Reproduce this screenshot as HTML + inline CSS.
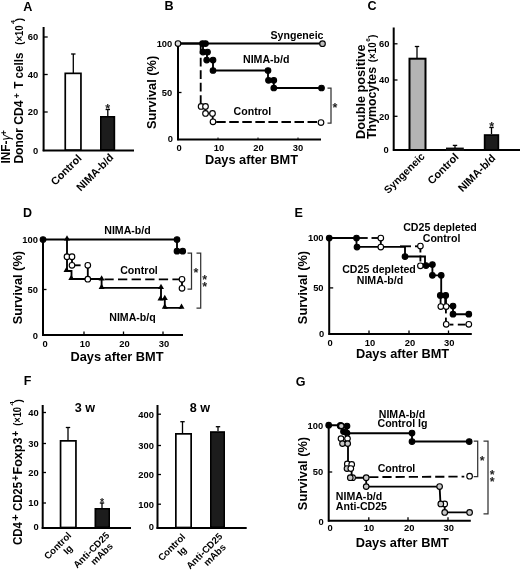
<!DOCTYPE html>
<html><head><meta charset="utf-8"><title>Figure</title>
<style>html,body{margin:0;padding:0;background:#fff}svg{display:block;filter:grayscale(1)}</style></head>
<body><svg width="520" height="571" viewBox="0 0 520 571">
<defs><filter id="soft" x="0" y="0" width="100%" height="100%" filterUnits="userSpaceOnUse"><feGaussianBlur stdDeviation="0.38"/></filter></defs>
<rect width="520" height="571" fill="#fff"/>
<g filter="url(#soft)">
<text x="23.3" y="10.9" font-family="Liberation Sans, sans-serif" font-weight="bold" font-size="12.6" text-anchor="start">A</text>
<line x1="43.6" y1="27" x2="43.6" y2="151.2" stroke="#000" stroke-width="2.0"/>
<line x1="42.7" y1="150.4" x2="134" y2="150.4" stroke="#000" stroke-width="2.0"/>
<line x1="43.6" y1="37" x2="47.7" y2="37" stroke="#000" stroke-width="1.3"/>
<text x="38.3" y="40.4" font-family="Liberation Sans, sans-serif" font-weight="bold" font-size="9.4" text-anchor="end">60</text>
<line x1="43.6" y1="74.5" x2="47.7" y2="74.5" stroke="#000" stroke-width="1.3"/>
<text x="38.3" y="77.9" font-family="Liberation Sans, sans-serif" font-weight="bold" font-size="9.4" text-anchor="end">40</text>
<line x1="43.6" y1="112" x2="47.7" y2="112" stroke="#000" stroke-width="1.3"/>
<text x="38.3" y="115.4" font-family="Liberation Sans, sans-serif" font-weight="bold" font-size="9.4" text-anchor="end">20</text>
<text x="38.3" y="153.8" font-family="Liberation Sans, sans-serif" font-weight="bold" font-size="9.4" text-anchor="end">0</text>
<rect x="65.25" y="73.35" width="15.699999999999992" height="76.65" fill="#fff" stroke="#000" stroke-width="1.7"/>
<line x1="73.3" y1="73" x2="73.3" y2="54" stroke="#000" stroke-width="1.3"/>
<line x1="71.1" y1="54" x2="75.5" y2="54" stroke="#000" stroke-width="1.3"/>
<rect x="100.85" y="116.85" width="13.500000000000004" height="33.15" fill="#1a1a1a" stroke="#000" stroke-width="1.7"/>
<line x1="107.8" y1="116" x2="107.8" y2="109.5" stroke="#000" stroke-width="1.3"/>
<line x1="105.6" y1="109.5" x2="110.0" y2="109.5" stroke="#000" stroke-width="1.3"/>
<text x="107.8" y="113" font-family="Liberation Sans, sans-serif" font-weight="bold" font-size="12.5" text-anchor="middle" fill="#222">*</text>
<text x="82.3" y="158.9" font-family="Liberation Sans, sans-serif" font-weight="bold" font-size="10.8" text-anchor="end" transform="rotate(-45 82.3 158.9)">Control</text>
<text x="114.3" y="158.2" font-family="Liberation Sans, sans-serif" font-weight="bold" font-size="10.8" text-anchor="end" transform="rotate(-45 114.3 158.2)">NIMA-b/d</text>
<text x="10.2" y="163.6" font-family="Liberation Sans, sans-serif" font-weight="bold" font-size="12.6" textLength="23.1" lengthAdjust="spacingAndGlyphs" transform="rotate(-90 10.2 163.6)">INF-</text>
<text x="10.2" y="140.5" font-family="Liberation Sans, sans-serif" font-weight="normal" font-size="12.6" textLength="6.0" lengthAdjust="spacingAndGlyphs" transform="rotate(-90 10.2 140.5)" font-style="italic">γ</text>
<text x="7" y="135.5" font-family="Liberation Sans, sans-serif" font-weight="bold" font-size="9.5" textLength="5.5" lengthAdjust="spacingAndGlyphs" transform="rotate(-90 7 135.5)">+</text>
<text x="23.2" y="163.6" font-family="Liberation Sans, sans-serif" font-weight="bold" font-size="12.6" textLength="63.1" lengthAdjust="spacingAndGlyphs" transform="rotate(-90 23.2 163.6)">Donor CD4</text>
<text x="19.8" y="98.2" font-family="Liberation Sans, sans-serif" font-weight="bold" font-size="9.5" textLength="5.0" lengthAdjust="spacingAndGlyphs" transform="rotate(-90 19.8 98.2)">+</text>
<text x="23.2" y="88.7" font-family="Liberation Sans, sans-serif" font-weight="bold" font-size="12.6" textLength="36.2" lengthAdjust="spacingAndGlyphs" transform="rotate(-90 23.2 88.7)">T cells</text>
<text x="22.6" y="44.8" font-family="Liberation Sans, sans-serif" font-weight="bold" font-size="10.2" textLength="19.5" lengthAdjust="spacingAndGlyphs" transform="rotate(-90 22.6 44.8)">(×10</text>
<text x="15.2" y="23.9" font-family="Liberation Sans, sans-serif" font-weight="bold" font-size="6.2" textLength="3.9" lengthAdjust="spacingAndGlyphs" transform="rotate(-90 15.2 23.9)">4</text>
<text x="22.6" y="21.2" font-family="Liberation Sans, sans-serif" font-weight="bold" font-size="10.2" textLength="3.3" lengthAdjust="spacingAndGlyphs" transform="rotate(-90 22.6 21.2)">)</text>
<text x="164.5" y="9.6" font-family="Liberation Sans, sans-serif" font-weight="bold" font-size="12.6" text-anchor="start">B</text>
<line x1="178" y1="43.5" x2="178" y2="140.3" stroke="#000" stroke-width="2.0"/>
<line x1="177.2" y1="139.5" x2="321" y2="139.5" stroke="#000" stroke-width="2.0"/>
<line x1="178" y1="43.5" x2="181.5" y2="43.5" stroke="#000" stroke-width="1.3"/>
<text x="172.3" y="46.9" font-family="Liberation Sans, sans-serif" font-weight="bold" font-size="9.4" text-anchor="end">100</text>
<line x1="178" y1="92.5" x2="181.5" y2="92.5" stroke="#000" stroke-width="1.3"/>
<text x="172.3" y="95.9" font-family="Liberation Sans, sans-serif" font-weight="bold" font-size="9.4" text-anchor="end">50</text>
<text x="173" y="142.3" font-family="Liberation Sans, sans-serif" font-weight="bold" font-size="9.4" text-anchor="end">0</text>
<text x="179" y="151.3" font-family="Liberation Sans, sans-serif" font-weight="bold" font-size="9.4" text-anchor="middle">0</text>
<text x="219" y="151.3" font-family="Liberation Sans, sans-serif" font-weight="bold" font-size="9.4" text-anchor="middle">10</text>
<text x="258.5" y="151.3" font-family="Liberation Sans, sans-serif" font-weight="bold" font-size="9.4" text-anchor="middle">20</text>
<text x="298" y="151.3" font-family="Liberation Sans, sans-serif" font-weight="bold" font-size="9.4" text-anchor="middle">30</text>
<line x1="218" y1="139.5" x2="218" y2="137.5" stroke="#000" stroke-width="1"/>
<line x1="258" y1="139.5" x2="258" y2="137.5" stroke="#000" stroke-width="1"/>
<line x1="298" y1="139.5" x2="298" y2="137.5" stroke="#000" stroke-width="1"/>
<text x="251.5" y="164.3" font-family="Liberation Sans, sans-serif" font-weight="bold" font-size="12.8" text-anchor="middle">Days after BMT</text>
<text x="155.7" y="92.4" font-family="Liberation Sans, sans-serif" font-weight="bold" font-size="12.8" text-anchor="middle" transform="rotate(-90 155.7 92.4)">Survival (%)</text>
<line x1="178" y1="43.5" x2="322" y2="43.5" stroke="#000" stroke-width="1.85"/>
<line x1="200.7" y1="45.3" x2="200.7" y2="104" stroke="#000" stroke-width="1.85" stroke-dasharray="8.8 3.7"/>
<polyline points="201,106.4 205.5,106.4 205.5,113.4 212.7,113.4 212.7,121.8" fill="none" stroke="#000" stroke-width="1.85" stroke-linejoin="miter"/>
<line x1="216.2" y1="122" x2="318" y2="122" stroke="#000" stroke-width="1.85" stroke-dasharray="9.5 3.55"/>
<polyline points="178,43.5 203,43.5 203,52 207,52 207,60 213,60 213,70.5 268,70.5 268,80.3 273.8,80.3 273.8,88 321.5,88" fill="none" stroke="#000" stroke-width="1.85" stroke-linejoin="miter"/>
<circle cx="178" cy="43.5" r="2.8" fill="#ddd" stroke="#000" stroke-width="1.15"/>
<circle cx="202.5" cy="43.5" r="2.8" fill="#000" stroke="#000" stroke-width="1.15"/>
<circle cx="205.5" cy="43.5" r="2.8" fill="#000" stroke="#000" stroke-width="1.15"/>
<circle cx="203" cy="52" r="2.8" fill="#000" stroke="#000" stroke-width="1.15"/>
<circle cx="207.5" cy="52" r="2.8" fill="#000" stroke="#000" stroke-width="1.15"/>
<circle cx="206.7" cy="60" r="2.8" fill="#000" stroke="#000" stroke-width="1.15"/>
<circle cx="213" cy="60" r="2.8" fill="#000" stroke="#000" stroke-width="1.15"/>
<circle cx="213" cy="70.5" r="2.8" fill="#000" stroke="#000" stroke-width="1.15"/>
<circle cx="268" cy="70.5" r="2.8" fill="#000" stroke="#000" stroke-width="1.15"/>
<circle cx="268.5" cy="80.3" r="2.8" fill="#000" stroke="#000" stroke-width="1.15"/>
<circle cx="273.8" cy="80.3" r="2.8" fill="#000" stroke="#000" stroke-width="1.15"/>
<circle cx="273.8" cy="88" r="2.8" fill="#000" stroke="#000" stroke-width="1.15"/>
<circle cx="321.5" cy="88" r="2.8" fill="#000" stroke="#000" stroke-width="1.15"/>
<circle cx="201.1" cy="106.4" r="2.8" fill="#fff" stroke="#000" stroke-width="1.15"/>
<circle cx="205.5" cy="106.4" r="2.8" fill="#fff" stroke="#000" stroke-width="1.15"/>
<circle cx="205.5" cy="113.4" r="2.8" fill="#fff" stroke="#000" stroke-width="1.15"/>
<circle cx="212.5" cy="113.4" r="2.8" fill="#fff" stroke="#000" stroke-width="1.15"/>
<circle cx="213" cy="121.8" r="2.8" fill="#fff" stroke="#000" stroke-width="1.15"/>
<circle cx="321" cy="122.6" r="2.8" fill="#fff" stroke="#000" stroke-width="1.15"/>
<circle cx="322.5" cy="43.7" r="2.8" fill="#bbb" stroke="#000" stroke-width="1.15"/>
<text x="297" y="38.8" font-family="Liberation Sans, sans-serif" font-weight="bold" font-size="10.6" text-anchor="middle">Syngeneic</text>
<text x="243" y="63" font-family="Liberation Sans, sans-serif" font-weight="bold" font-size="10.6" text-anchor="start">NIMA-b/d</text>
<text x="233.6" y="115" font-family="Liberation Sans, sans-serif" font-weight="bold" font-size="10.6" text-anchor="start">Control</text>
<polyline points="327.5,88 331,88 331,123 327.5,123" fill="none" stroke="#333" stroke-width="1.25" stroke-linejoin="miter"/>
<text x="335" y="111.5" font-family="Liberation Sans, sans-serif" font-weight="bold" font-size="12.5" text-anchor="middle" fill="#222">*</text>
<text x="367.6" y="9.8" font-family="Liberation Sans, sans-serif" font-weight="bold" font-size="12.6" text-anchor="start">C</text>
<line x1="393.7" y1="27.5" x2="393.7" y2="150.8" stroke="#000" stroke-width="2.0"/>
<line x1="392.9" y1="150" x2="520" y2="150" stroke="#000" stroke-width="2.0"/>
<line x1="393.7" y1="43.8" x2="397.5" y2="43.8" stroke="#000" stroke-width="1.3"/>
<text x="389.4" y="47.099999999999994" font-family="Liberation Sans, sans-serif" font-weight="bold" font-size="9.4" text-anchor="end">60</text>
<line x1="393.7" y1="80" x2="397.5" y2="80" stroke="#000" stroke-width="1.3"/>
<text x="389.4" y="83.3" font-family="Liberation Sans, sans-serif" font-weight="bold" font-size="9.4" text-anchor="end">40</text>
<line x1="393.7" y1="116.3" x2="397.5" y2="116.3" stroke="#000" stroke-width="1.3"/>
<text x="389.4" y="119.6" font-family="Liberation Sans, sans-serif" font-weight="bold" font-size="9.4" text-anchor="end">20</text>
<text x="388.8" y="153.2" font-family="Liberation Sans, sans-serif" font-weight="bold" font-size="9.4" text-anchor="end">0</text>
<rect x="409.5" y="58.7" width="16.0" height="91.3" fill="#b4b4b4" stroke="#000" stroke-width="2"/>
<line x1="417" y1="58" x2="417" y2="46.5" stroke="#000" stroke-width="1.3"/>
<line x1="414.8" y1="46.5" x2="419.2" y2="46.5" stroke="#000" stroke-width="1.3"/>
<rect x="446" y="147.6" width="17.8" height="3" fill="#111"/>
<line x1="455" y1="148" x2="455" y2="145.4" stroke="#000" stroke-width="1.3"/>
<line x1="452.8" y1="145.4" x2="457.2" y2="145.4" stroke="#000" stroke-width="1.3"/>
<rect x="484.65000000000003" y="135.04999999999998" width="13.699999999999978" height="14.950000000000012" fill="#1a1a1a" stroke="#000" stroke-width="1.7"/>
<line x1="491.5" y1="134" x2="491.5" y2="127.5" stroke="#000" stroke-width="1.3"/>
<line x1="489.3" y1="127.5" x2="493.7" y2="127.5" stroke="#000" stroke-width="1.3"/>
<text x="491.7" y="131" font-family="Liberation Sans, sans-serif" font-weight="bold" font-size="12.5" text-anchor="middle" fill="#222">*</text>
<text x="425.5" y="157" font-family="Liberation Sans, sans-serif" font-weight="bold" font-size="10.5" text-anchor="end" transform="rotate(-45 425.5 157)">Syngeneic</text>
<text x="459.4" y="157.6" font-family="Liberation Sans, sans-serif" font-weight="bold" font-size="10.9" text-anchor="end" transform="rotate(-45 459.4 157.6)">Control</text>
<text x="496.2" y="158.8" font-family="Liberation Sans, sans-serif" font-weight="bold" font-size="10.9" text-anchor="end" transform="rotate(-45 496.2 158.8)">NIMA-b/d</text>
<text x="364.6" y="138.9" font-family="Liberation Sans, sans-serif" font-weight="bold" font-size="12.8" textLength="94.4" lengthAdjust="spacingAndGlyphs" transform="rotate(-90 364.6 138.9)">Double positive</text>
<text x="376.2" y="138.9" font-family="Liberation Sans, sans-serif" font-weight="bold" font-size="12.8" textLength="71.9" lengthAdjust="spacingAndGlyphs" transform="rotate(-90 376.2 138.9)">Thymocytes</text>
<text x="375.6" y="62.2" font-family="Liberation Sans, sans-serif" font-weight="bold" font-size="10.2" textLength="19.8" lengthAdjust="spacingAndGlyphs" transform="rotate(-90 375.6 62.2)">(×10</text>
<text x="370" y="41.8" font-family="Liberation Sans, sans-serif" font-weight="bold" font-size="6.2" textLength="3.6" lengthAdjust="spacingAndGlyphs" transform="rotate(-90 370 41.8)">6</text>
<text x="375.6" y="38" font-family="Liberation Sans, sans-serif" font-weight="bold" font-size="10.2" textLength="3.4" lengthAdjust="spacingAndGlyphs" transform="rotate(-90 375.6 38)">)</text>
<text x="23" y="217" font-family="Liberation Sans, sans-serif" font-weight="bold" font-size="12.5" text-anchor="start">D</text>
<line x1="43" y1="239.5" x2="43" y2="336" stroke="#000" stroke-width="2.0"/>
<line x1="42" y1="335.1" x2="183" y2="335.1" stroke="#000" stroke-width="2.0"/>
<line x1="43" y1="239.5" x2="46.5" y2="239.5" stroke="#000" stroke-width="1.3"/>
<text x="38" y="242.9" font-family="Liberation Sans, sans-serif" font-weight="bold" font-size="9.4" text-anchor="end">100</text>
<line x1="43" y1="289.5" x2="46.5" y2="289.5" stroke="#000" stroke-width="1.3"/>
<text x="38" y="292.9" font-family="Liberation Sans, sans-serif" font-weight="bold" font-size="9.4" text-anchor="end">50</text>
<text x="38" y="339.3" font-family="Liberation Sans, sans-serif" font-weight="bold" font-size="9.4" text-anchor="end">0</text>
<text x="45" y="347.2" font-family="Liberation Sans, sans-serif" font-weight="bold" font-size="9.4" text-anchor="middle">0</text>
<text x="85" y="347.2" font-family="Liberation Sans, sans-serif" font-weight="bold" font-size="9.4" text-anchor="middle">10</text>
<text x="124.5" y="347.2" font-family="Liberation Sans, sans-serif" font-weight="bold" font-size="9.4" text-anchor="middle">20</text>
<text x="164" y="347.2" font-family="Liberation Sans, sans-serif" font-weight="bold" font-size="9.4" text-anchor="middle">30</text>
<line x1="84" y1="335" x2="84" y2="331.5" stroke="#000" stroke-width="1.3"/>
<line x1="123.5" y1="335" x2="123.5" y2="331.5" stroke="#000" stroke-width="1.3"/>
<line x1="163" y1="335" x2="163" y2="331.5" stroke="#000" stroke-width="1.3"/>
<text x="117" y="360.7" font-family="Liberation Sans, sans-serif" font-weight="bold" font-size="12.8" text-anchor="middle">Days after BMT</text>
<text x="22.1" y="287.6" font-family="Liberation Sans, sans-serif" font-weight="bold" font-size="12.8" text-anchor="middle" transform="rotate(-90 22.1 287.6)">Survival (%)</text>
<polyline points="67,239.5 67,271 71.5,271 71.5,279 101.6,279 101.6,287.8 161,287.8 161,299.4 164.8,299.4 164.8,307.8 181.5,307.8" fill="none" stroke="#000" stroke-width="1.85" stroke-linejoin="miter"/>
<polygon points="64.0,240.5 70.0,240.5 67,235.2" fill="#000"/>
<polygon points="63.5,272 69.5,272 66.5,266.7" fill="#000"/>
<polygon points="68.3,280 74.3,280 71.3,274.7" fill="#000"/>
<polygon points="98.6,280.5 104.6,280.5 101.6,275.2" fill="#000"/>
<polygon points="98.6,289 104.6,289 101.6,283.7" fill="#000"/>
<polygon points="158.0,289 164.0,289 161,283.7" fill="#000"/>
<polygon points="157.5,300.4 163.5,300.4 160.5,295.09999999999997" fill="#000"/>
<polygon points="161.8,300 167.8,300 164.8,294.7" fill="#000"/>
<polygon points="161.8,308.8 167.8,308.8 164.8,303.5" fill="#000"/>
<polygon points="178.5,308.8 184.5,308.8 181.5,303.5" fill="#000"/>
<polyline points="67,256.7 72,256.7 72,265.3" fill="none" stroke="#000" stroke-width="1.85" stroke-linejoin="miter"/>
<line x1="75" y1="265.3" x2="80.6" y2="265.3" stroke="#000" stroke-width="1.85"/>
<line x1="87.8" y1="265.3" x2="87.8" y2="279.2" stroke="#000" stroke-width="1.85"/>
<line x1="104.4" y1="279.3" x2="179" y2="279.3" stroke="#000" stroke-width="1.85" stroke-dasharray="9.3 4.3"/>
<line x1="182" y1="279.3" x2="182" y2="288.3" stroke="#000" stroke-width="1.85"/>
<circle cx="67" cy="256.7" r="2.8" fill="#fff" stroke="#000" stroke-width="1.15"/>
<circle cx="72" cy="256.7" r="2.8" fill="#fff" stroke="#000" stroke-width="1.15"/>
<circle cx="72" cy="265.3" r="2.8" fill="#fff" stroke="#000" stroke-width="1.15"/>
<circle cx="87.8" cy="265.3" r="2.8" fill="#fff" stroke="#000" stroke-width="1.15"/>
<circle cx="87.8" cy="279.2" r="2.8" fill="#fff" stroke="#000" stroke-width="1.15"/>
<circle cx="182" cy="279.3" r="2.8" fill="#fff" stroke="#000" stroke-width="1.15"/>
<circle cx="182" cy="288.3" r="2.8" fill="#fff" stroke="#000" stroke-width="1.15"/>
<polyline points="43,239.5 177,239.5 177,251.2 182.7,251.2" fill="none" stroke="#000" stroke-width="1.85" stroke-linejoin="miter"/>
<circle cx="43" cy="239.5" r="2.8" fill="#000" stroke="#000" stroke-width="1.15"/>
<circle cx="177" cy="239.5" r="2.8" fill="#000" stroke="#000" stroke-width="1.15"/>
<circle cx="177" cy="251.2" r="2.8" fill="#000" stroke="#000" stroke-width="1.15"/>
<circle cx="182.7" cy="251.2" r="2.8" fill="#000" stroke="#000" stroke-width="1.15"/>
<text x="127.5" y="233.6" font-family="Liberation Sans, sans-serif" font-weight="bold" font-size="10.6" text-anchor="middle">NIMA-b/d</text>
<text x="139" y="273.8" font-family="Liberation Sans, sans-serif" font-weight="bold" font-size="10.6" text-anchor="middle">Control</text>
<text x="132.5" y="321.2" font-family="Liberation Sans, sans-serif" font-weight="bold" font-size="10.6" text-anchor="middle">NIMA-b/q</text>
<polyline points="187.5,253 191.5,253 191.5,289 187.5,289" fill="none" stroke="#333" stroke-width="1.25" stroke-linejoin="miter"/>
<polyline points="196.5,253 200.7,253 200.7,308.2 196.5,308.2" fill="none" stroke="#333" stroke-width="1.25" stroke-linejoin="miter"/>
<text x="195.9" y="276.8" font-family="Liberation Sans, sans-serif" font-weight="bold" font-size="12.5" text-anchor="middle" fill="#222">*</text>
<text x="204.6" y="284.4" font-family="Liberation Sans, sans-serif" font-weight="bold" font-size="12.5" text-anchor="middle" fill="#222">*</text>
<text x="204.6" y="291.4" font-family="Liberation Sans, sans-serif" font-weight="bold" font-size="12.5" text-anchor="middle" fill="#222">*</text>
<text x="294.4" y="216.7" font-family="Liberation Sans, sans-serif" font-weight="bold" font-size="12.6" text-anchor="start">E</text>
<line x1="329.2" y1="238" x2="329.2" y2="334.8" stroke="#000" stroke-width="2.0"/>
<line x1="328.4" y1="334" x2="471.8" y2="334" stroke="#000" stroke-width="2.0"/>
<line x1="329.2" y1="237.7" x2="333.2" y2="237.7" stroke="#000" stroke-width="1.3"/>
<text x="323.6" y="241.2" font-family="Liberation Sans, sans-serif" font-weight="bold" font-size="9.4" text-anchor="end">100</text>
<line x1="329.2" y1="287.9" x2="333.2" y2="287.9" stroke="#000" stroke-width="1.3"/>
<text x="323.6" y="291.4" font-family="Liberation Sans, sans-serif" font-weight="bold" font-size="9.4" text-anchor="end">50</text>
<text x="324.3" y="336.8" font-family="Liberation Sans, sans-serif" font-weight="bold" font-size="9.4" text-anchor="end">0</text>
<text x="330" y="345.5" font-family="Liberation Sans, sans-serif" font-weight="bold" font-size="9.4" text-anchor="middle">0</text>
<text x="370" y="345.5" font-family="Liberation Sans, sans-serif" font-weight="bold" font-size="9.4" text-anchor="middle">10</text>
<text x="410" y="345.5" font-family="Liberation Sans, sans-serif" font-weight="bold" font-size="9.4" text-anchor="middle">20</text>
<text x="449.2" y="345.5" font-family="Liberation Sans, sans-serif" font-weight="bold" font-size="9.4" text-anchor="middle">30</text>
<line x1="369" y1="334" x2="369" y2="330.5" stroke="#000" stroke-width="1.3"/>
<line x1="409" y1="334" x2="409" y2="330.5" stroke="#000" stroke-width="1.3"/>
<line x1="448.5" y1="334" x2="448.5" y2="330.5" stroke="#000" stroke-width="1.3"/>
<text x="402.6" y="358.3" font-family="Liberation Sans, sans-serif" font-weight="bold" font-size="12.8" text-anchor="middle">Days after BMT</text>
<text x="307" y="287.5" font-family="Liberation Sans, sans-serif" font-weight="bold" font-size="12.8" text-anchor="middle" transform="rotate(-90 307 287.5)">Survival (%)</text>
<line x1="359" y1="238" x2="367.7" y2="238" stroke="#000" stroke-width="1.85"/>
<line x1="371.5" y1="238" x2="378.5" y2="238" stroke="#000" stroke-width="1.85"/>
<line x1="380.8" y1="238" x2="380.8" y2="247" stroke="#000" stroke-width="1.85"/>
<line x1="400" y1="246.3" x2="411" y2="246.3" stroke="#000" stroke-width="1.85"/>
<line x1="415" y1="246.3" x2="418" y2="246.3" stroke="#000" stroke-width="1.85"/>
<line x1="420.4" y1="246.5" x2="420.4" y2="266" stroke="#000" stroke-width="1.85" stroke-dasharray="6 3"/>
<line x1="420.4" y1="266" x2="432" y2="266" stroke="#000" stroke-width="1.85"/>
<line x1="440.6" y1="297" x2="440.6" y2="304" stroke="#000" stroke-width="1.85"/>
<line x1="445.2" y1="297" x2="445.2" y2="304" stroke="#000" stroke-width="1.85"/>
<line x1="445.9" y1="309.2" x2="445.9" y2="313.4" stroke="#000" stroke-width="1.85"/>
<line x1="445.9" y1="317.6" x2="445.9" y2="321.5" stroke="#000" stroke-width="1.85"/>
<line x1="449.5" y1="324.6" x2="453.4" y2="324.6" stroke="#000" stroke-width="1.85"/>
<line x1="457.8" y1="324.6" x2="465.6" y2="324.6" stroke="#000" stroke-width="1.85"/>
<polyline points="329.2,238 356.5,238 356.5,246.8 405,246.8 405,256.5 425,256.5 425,265 432.4,265 432.4,275.3 441.2,275.3 441.2,295.4 446,295.4 446,306 453,306 453,314.2 468.8,314.2" fill="none" stroke="#000" stroke-width="1.85" stroke-linejoin="miter"/>
<circle cx="380.8" cy="238" r="2.8" fill="#fff" stroke="#000" stroke-width="1.15"/>
<circle cx="380.8" cy="247" r="2.8" fill="#fff" stroke="#000" stroke-width="1.15"/>
<circle cx="420.4" cy="246" r="2.8" fill="#fff" stroke="#000" stroke-width="1.15"/>
<circle cx="420.4" cy="265.8" r="2.8" fill="#fff" stroke="#000" stroke-width="1.15"/>
<circle cx="440.8" cy="306.5" r="2.8" fill="#fff" stroke="#000" stroke-width="1.15"/>
<circle cx="446.2" cy="306.5" r="2.8" fill="#fff" stroke="#000" stroke-width="1.15"/>
<circle cx="446.2" cy="324.3" r="2.8" fill="#fff" stroke="#000" stroke-width="1.15"/>
<circle cx="468.8" cy="324.3" r="2.8" fill="#fff" stroke="#000" stroke-width="1.15"/>
<circle cx="329.2" cy="238" r="2.8" fill="#000" stroke="#000" stroke-width="1.15"/>
<circle cx="356.5" cy="238" r="2.8" fill="#000" stroke="#000" stroke-width="1.15"/>
<circle cx="357" cy="247" r="2.8" fill="#000" stroke="#000" stroke-width="1.15"/>
<circle cx="405" cy="256.5" r="2.8" fill="#000" stroke="#000" stroke-width="1.15"/>
<circle cx="426" cy="265.5" r="2.8" fill="#000" stroke="#000" stroke-width="1.15"/>
<circle cx="432.4" cy="264.5" r="2.8" fill="#000" stroke="#000" stroke-width="1.15"/>
<circle cx="432.4" cy="275.3" r="2.8" fill="#000" stroke="#000" stroke-width="1.15"/>
<circle cx="441.2" cy="275.3" r="2.8" fill="#000" stroke="#000" stroke-width="1.15"/>
<circle cx="440.3" cy="295.4" r="2.8" fill="#000" stroke="#000" stroke-width="1.15"/>
<circle cx="445.7" cy="295.4" r="2.8" fill="#000" stroke="#000" stroke-width="1.15"/>
<circle cx="453" cy="306" r="2.8" fill="#000" stroke="#000" stroke-width="1.15"/>
<circle cx="453" cy="314.2" r="2.8" fill="#000" stroke="#000" stroke-width="1.15"/>
<circle cx="468.8" cy="314.2" r="2.8" fill="#000" stroke="#000" stroke-width="1.15"/>
<text x="440" y="231.3" font-family="Liberation Sans, sans-serif" font-weight="bold" font-size="10.6" text-anchor="middle">CD25 depleted</text>
<text x="441.6" y="242.3" font-family="Liberation Sans, sans-serif" font-weight="bold" font-size="10.6" text-anchor="middle">Control</text>
<text x="379" y="273" font-family="Liberation Sans, sans-serif" font-weight="bold" font-size="10.6" text-anchor="middle">CD25 depleted</text>
<text x="380" y="284" font-family="Liberation Sans, sans-serif" font-weight="bold" font-size="10.6" text-anchor="middle">NIMA-b/d</text>
<text x="23.7" y="385" font-family="Liberation Sans, sans-serif" font-weight="bold" font-size="12.5" text-anchor="start">F</text>
<line x1="42.7" y1="405" x2="42.7" y2="528.8" stroke="#000" stroke-width="2.0"/>
<line x1="41.7" y1="527.9" x2="131" y2="527.9" stroke="#000" stroke-width="2.0"/>
<line x1="42.5" y1="412.5" x2="46" y2="412.5" stroke="#000" stroke-width="1.3"/>
<text x="38.7" y="415.8" font-family="Liberation Sans, sans-serif" font-weight="bold" font-size="9.4" text-anchor="end">40</text>
<line x1="42.5" y1="443.5" x2="46" y2="443.5" stroke="#000" stroke-width="1.3"/>
<text x="38.7" y="446.8" font-family="Liberation Sans, sans-serif" font-weight="bold" font-size="9.4" text-anchor="end">30</text>
<line x1="42.5" y1="472.5" x2="46" y2="472.5" stroke="#000" stroke-width="1.3"/>
<text x="38.7" y="475.8" font-family="Liberation Sans, sans-serif" font-weight="bold" font-size="9.4" text-anchor="end">20</text>
<line x1="42.5" y1="503" x2="46" y2="503" stroke="#000" stroke-width="1.3"/>
<text x="38.7" y="506.3" font-family="Liberation Sans, sans-serif" font-weight="bold" font-size="9.4" text-anchor="end">10</text>
<text x="38.7" y="530.3" font-family="Liberation Sans, sans-serif" font-weight="bold" font-size="9.4" text-anchor="end">0</text>
<rect x="60.550000000000004" y="440.85" width="15.399999999999995" height="86.65" fill="#fff" stroke="#000" stroke-width="1.7"/>
<line x1="68" y1="440" x2="68" y2="427.5" stroke="#000" stroke-width="1.3"/>
<line x1="65.8" y1="427.5" x2="70.2" y2="427.5" stroke="#000" stroke-width="1.3"/>
<rect x="95.35" y="508.85" width="13.8" height="18.65" fill="#1a1a1a" stroke="#000" stroke-width="1.7"/>
<line x1="102" y1="508" x2="102" y2="503" stroke="#000" stroke-width="1.3"/>
<line x1="99.8" y1="503" x2="104.2" y2="503" stroke="#000" stroke-width="1.3"/>
<text x="102" y="505.5" font-family="Liberation Sans, sans-serif" font-weight="bold" font-size="10.5" text-anchor="middle" fill="#222">*</text>
<text x="85" y="411.8" font-family="Liberation Sans, sans-serif" font-weight="bold" font-size="12.6" text-anchor="middle">3 w</text>
<line x1="157.5" y1="405" x2="157.5" y2="528.8" stroke="#000" stroke-width="2.0"/>
<line x1="156.5" y1="527.9" x2="246.7" y2="527.9" stroke="#000" stroke-width="2.0"/>
<line x1="157.5" y1="414.2" x2="161" y2="414.2" stroke="#000" stroke-width="1.3"/>
<text x="154" y="417.5" font-family="Liberation Sans, sans-serif" font-weight="bold" font-size="9.4" text-anchor="end">400</text>
<line x1="157.5" y1="445.5" x2="161" y2="445.5" stroke="#000" stroke-width="1.3"/>
<text x="154" y="448.8" font-family="Liberation Sans, sans-serif" font-weight="bold" font-size="9.4" text-anchor="end">300</text>
<line x1="157.5" y1="474.5" x2="161" y2="474.5" stroke="#000" stroke-width="1.3"/>
<text x="154" y="477.8" font-family="Liberation Sans, sans-serif" font-weight="bold" font-size="9.4" text-anchor="end">200</text>
<line x1="157.5" y1="504.2" x2="161" y2="504.2" stroke="#000" stroke-width="1.3"/>
<text x="154" y="507.5" font-family="Liberation Sans, sans-serif" font-weight="bold" font-size="9.4" text-anchor="end">100</text>
<text x="154" y="530.3" font-family="Liberation Sans, sans-serif" font-weight="bold" font-size="9.4" text-anchor="end">0</text>
<rect x="175.85" y="433.85" width="15.3" height="93.65" fill="#fff" stroke="#000" stroke-width="1.7"/>
<line x1="182.5" y1="433" x2="182.5" y2="421.7" stroke="#000" stroke-width="1.3"/>
<line x1="180.3" y1="421.7" x2="184.7" y2="421.7" stroke="#000" stroke-width="1.3"/>
<rect x="210.85" y="432.05" width="13.3" height="95.45000000000002" fill="#1a1a1a" stroke="#000" stroke-width="1.7"/>
<line x1="218" y1="431" x2="218" y2="426.7" stroke="#000" stroke-width="1.3"/>
<line x1="215.8" y1="426.7" x2="220.2" y2="426.7" stroke="#000" stroke-width="1.3"/>
<text x="199.8" y="411.8" font-family="Liberation Sans, sans-serif" font-weight="bold" font-size="12.6" text-anchor="middle">8 w</text>
<text x="21.6" y="545" font-family="Liberation Sans, sans-serif" font-weight="bold" font-size="12.5" textLength="23.0" lengthAdjust="spacingAndGlyphs" transform="rotate(-90 21.6 545)">CD4</text>
<text x="19" y="520.9" font-family="Liberation Sans, sans-serif" font-weight="bold" font-size="10" textLength="6.7" lengthAdjust="spacingAndGlyphs" transform="rotate(-90 19 520.9)">+</text>
<text x="21.6" y="511" font-family="Liberation Sans, sans-serif" font-weight="bold" font-size="12.5" textLength="29.0" lengthAdjust="spacingAndGlyphs" transform="rotate(-90 21.6 511)">CD25</text>
<text x="19" y="481" font-family="Liberation Sans, sans-serif" font-weight="bold" font-size="10" textLength="5.8" lengthAdjust="spacingAndGlyphs" transform="rotate(-90 19 481)">+</text>
<text x="21.6" y="474.5" font-family="Liberation Sans, sans-serif" font-weight="bold" font-size="12.5" textLength="37.0" lengthAdjust="spacingAndGlyphs" transform="rotate(-90 21.6 474.5)">Foxp3</text>
<text x="19" y="436.5" font-family="Liberation Sans, sans-serif" font-weight="bold" font-size="10" textLength="5.7" lengthAdjust="spacingAndGlyphs" transform="rotate(-90 19 436.5)">+</text>
<text x="21.5" y="425.8" font-family="Liberation Sans, sans-serif" font-weight="bold" font-size="10.2" textLength="18.8" lengthAdjust="spacingAndGlyphs" transform="rotate(-90 21.5 425.8)">(×10</text>
<text x="14.5" y="405.6" font-family="Liberation Sans, sans-serif" font-weight="bold" font-size="6.2" textLength="4.1" lengthAdjust="spacingAndGlyphs" transform="rotate(-90 14.5 405.6)">4</text>
<text x="21.5" y="402.5" font-family="Liberation Sans, sans-serif" font-weight="bold" font-size="10.2" textLength="3.2" lengthAdjust="spacingAndGlyphs" transform="rotate(-90 21.5 402.5)">)</text>
<text x="72" y="536" font-family="Liberation Sans, sans-serif" font-weight="bold" font-size="9.6" text-anchor="end" transform="rotate(-45 72 536)">Control</text>
<text font-family="Liberation Sans, sans-serif" font-weight="bold" font-size="9.6" text-anchor="middle" transform="translate(72,536) rotate(-45)" x="-12.5" y="10">Ig</text>
<text x="110" y="536" font-family="Liberation Sans, sans-serif" font-weight="bold" font-size="9.6" text-anchor="end" transform="rotate(-45 110 536)">Anti-CD25</text>
<text font-family="Liberation Sans, sans-serif" font-weight="bold" font-size="9.6" text-anchor="middle" transform="translate(110,536) rotate(-45)" x="-18.5" y="10">mAbs</text>
<text x="186" y="537.5" font-family="Liberation Sans, sans-serif" font-weight="bold" font-size="9.6" text-anchor="end" transform="rotate(-45 186 537.5)">Control</text>
<text font-family="Liberation Sans, sans-serif" font-weight="bold" font-size="9.6" text-anchor="middle" transform="translate(186,537.5) rotate(-45)" x="-12.5" y="10">Ig</text>
<text x="223" y="537" font-family="Liberation Sans, sans-serif" font-weight="bold" font-size="9.6" text-anchor="end" transform="rotate(-45 223 537)">Anti-CD25</text>
<text font-family="Liberation Sans, sans-serif" font-weight="bold" font-size="9.6" text-anchor="middle" transform="translate(223,537) rotate(-45)" x="-18.5" y="10">mAbs</text>
<text x="295.8" y="385.5" font-family="Liberation Sans, sans-serif" font-weight="bold" font-size="12.5" text-anchor="start">G</text>
<line x1="328.7" y1="425" x2="328.7" y2="521.6" stroke="#000" stroke-width="2.0"/>
<line x1="327.9" y1="520.8" x2="470.8" y2="520.8" stroke="#000" stroke-width="2.0"/>
<line x1="328.7" y1="425.2" x2="332.2" y2="425.2" stroke="#000" stroke-width="1.3"/>
<text x="323.2" y="428.5" font-family="Liberation Sans, sans-serif" font-weight="bold" font-size="9.4" text-anchor="end">100</text>
<line x1="328.7" y1="472" x2="332.2" y2="472" stroke="#000" stroke-width="1.3"/>
<text x="323.2" y="475.3" font-family="Liberation Sans, sans-serif" font-weight="bold" font-size="9.4" text-anchor="end">50</text>
<text x="323.8" y="524.5" font-family="Liberation Sans, sans-serif" font-weight="bold" font-size="9.4" text-anchor="end">0</text>
<text x="330" y="531.2" font-family="Liberation Sans, sans-serif" font-weight="bold" font-size="9.4" text-anchor="middle">0</text>
<text x="369" y="531.2" font-family="Liberation Sans, sans-serif" font-weight="bold" font-size="9.4" text-anchor="middle">10</text>
<text x="409.2" y="531.2" font-family="Liberation Sans, sans-serif" font-weight="bold" font-size="9.4" text-anchor="middle">20</text>
<text x="448.8" y="531.2" font-family="Liberation Sans, sans-serif" font-weight="bold" font-size="9.4" text-anchor="middle">30</text>
<line x1="368.8" y1="520.8" x2="368.8" y2="517.3" stroke="#000" stroke-width="1.3"/>
<line x1="408" y1="520.8" x2="408" y2="517.3" stroke="#000" stroke-width="1.3"/>
<line x1="448" y1="520.8" x2="448" y2="517.3" stroke="#000" stroke-width="1.3"/>
<text x="402.3" y="547" font-family="Liberation Sans, sans-serif" font-weight="bold" font-size="12.8" text-anchor="middle">Days after BMT</text>
<text x="307.2" y="473.5" font-family="Liberation Sans, sans-serif" font-weight="bold" font-size="12.8" text-anchor="middle" transform="rotate(-90 307.2 473.5)">Survival (%)</text>
<polyline points="328.7,425.2 347,425.2 347,433.2 412,433.2 412,441.5 469.2,441.5" fill="none" stroke="#000" stroke-width="1.85" stroke-linejoin="miter"/>
<line x1="369.2" y1="477.1" x2="464.3" y2="476.6" stroke="#000" stroke-width="1.85" stroke-dasharray="9.2 4"/>
<polyline points="348,433 348,464 351.6,464 351.6,477.7 366.2,477.7 366.2,486.6 439.6,486.6 440.5,503.9 444.7,503.9 444.7,512.4 469.6,512.4" fill="none" stroke="#000" stroke-width="1.85" stroke-linejoin="miter"/>
<circle cx="347" cy="426" r="2.8" fill="#000" stroke="#000" stroke-width="1.15"/>
<circle cx="343.5" cy="431.5" r="2.8" fill="#000" stroke="#000" stroke-width="1.15"/>
<circle cx="347" cy="433" r="2.8" fill="#000" stroke="#000" stroke-width="1.15"/>
<circle cx="328.7" cy="425.2" r="2.8" fill="#000" stroke="#000" stroke-width="1.15"/>
<circle cx="340.6" cy="425.8" r="3.2" fill="#000" stroke="#000" stroke-width="1.15"/>
<circle cx="341.3" cy="426" r="2.7" fill="#c8c8c8" stroke="#000" stroke-width="1.15"/>
<circle cx="341" cy="438.6" r="2.8" fill="#fff" stroke="#000" stroke-width="1.15"/>
<circle cx="347.5" cy="438.6" r="2.8" fill="#fff" stroke="#000" stroke-width="1.15"/>
<circle cx="342.5" cy="443.6" r="2.8" fill="#c8c8c8" stroke="#000" stroke-width="1.15"/>
<circle cx="347.7" cy="443.6" r="2.8" fill="#c8c8c8" stroke="#000" stroke-width="1.15"/>
<circle cx="347.3" cy="463.9" r="2.8" fill="#fff" stroke="#000" stroke-width="1.15"/>
<circle cx="351.7" cy="464.4" r="2.8" fill="#fff" stroke="#000" stroke-width="1.15"/>
<circle cx="347" cy="468.5" r="2.8" fill="#c8c8c8" stroke="#000" stroke-width="1.15"/>
<circle cx="350.8" cy="468.5" r="2.8" fill="#fff" stroke="#000" stroke-width="1.15"/>
<circle cx="352.6" cy="477.7" r="2.8" fill="#fff" stroke="#000" stroke-width="1.15"/>
<circle cx="350.3" cy="477.7" r="2.8" fill="#c8c8c8" stroke="#000" stroke-width="1.15"/>
<circle cx="366.2" cy="477.7" r="2.8" fill="#c8c8c8" stroke="#000" stroke-width="1.15"/>
<circle cx="366.2" cy="486.6" r="2.8" fill="#c8c8c8" stroke="#000" stroke-width="1.15"/>
<circle cx="439.6" cy="486.5" r="2.8" fill="#c8c8c8" stroke="#000" stroke-width="1.15"/>
<circle cx="444.7" cy="503.9" r="2.8" fill="#fff" stroke="#000" stroke-width="1.15"/>
<circle cx="440.8" cy="503.9" r="2.8" fill="#c8c8c8" stroke="#000" stroke-width="1.15"/>
<circle cx="444.7" cy="512.4" r="2.8" fill="#c8c8c8" stroke="#000" stroke-width="1.15"/>
<circle cx="469.6" cy="512.4" r="2.8" fill="#c8c8c8" stroke="#000" stroke-width="1.15"/>
<circle cx="412" cy="433" r="2.8" fill="#000" stroke="#000" stroke-width="1.15"/>
<circle cx="412" cy="441.5" r="2.8" fill="#000" stroke="#000" stroke-width="1.15"/>
<circle cx="469.2" cy="441.5" r="2.8" fill="#000" stroke="#000" stroke-width="1.15"/>
<circle cx="469.6" cy="476.2" r="2.8" fill="#fff" stroke="#000" stroke-width="1.15"/>
<text x="402" y="418" font-family="Liberation Sans, sans-serif" font-weight="bold" font-size="10.6" text-anchor="middle">NIMA-b/d</text>
<text x="402.5" y="427" font-family="Liberation Sans, sans-serif" font-weight="bold" font-size="10.6" text-anchor="middle">Control Ig</text>
<text x="396.5" y="472.3" font-family="Liberation Sans, sans-serif" font-weight="bold" font-size="10.6" text-anchor="middle">Control</text>
<text x="335.8" y="499.5" font-family="Liberation Sans, sans-serif" font-weight="bold" font-size="10.6" text-anchor="start">NIMA-b/d</text>
<text x="335.8" y="509.6" font-family="Liberation Sans, sans-serif" font-weight="bold" font-size="10.6" text-anchor="start">Anti-CD25</text>
<polyline points="473.7,441 477.7,441 477.7,476.6 473.7,476.6" fill="none" stroke="#333" stroke-width="1.25" stroke-linejoin="miter"/>
<polyline points="483.5,441 488,441 488,513.8 483.5,513.8" fill="none" stroke="#333" stroke-width="1.25" stroke-linejoin="miter"/>
<text x="482.1" y="464.8" font-family="Liberation Sans, sans-serif" font-weight="bold" font-size="12.5" text-anchor="middle" fill="#222">*</text>
<text x="492.3" y="478.7" font-family="Liberation Sans, sans-serif" font-weight="bold" font-size="12.5" text-anchor="middle" fill="#222">*</text>
<text x="492.3" y="486" font-family="Liberation Sans, sans-serif" font-weight="bold" font-size="12.5" text-anchor="middle" fill="#222">*</text>
</g>
</svg></body></html>
